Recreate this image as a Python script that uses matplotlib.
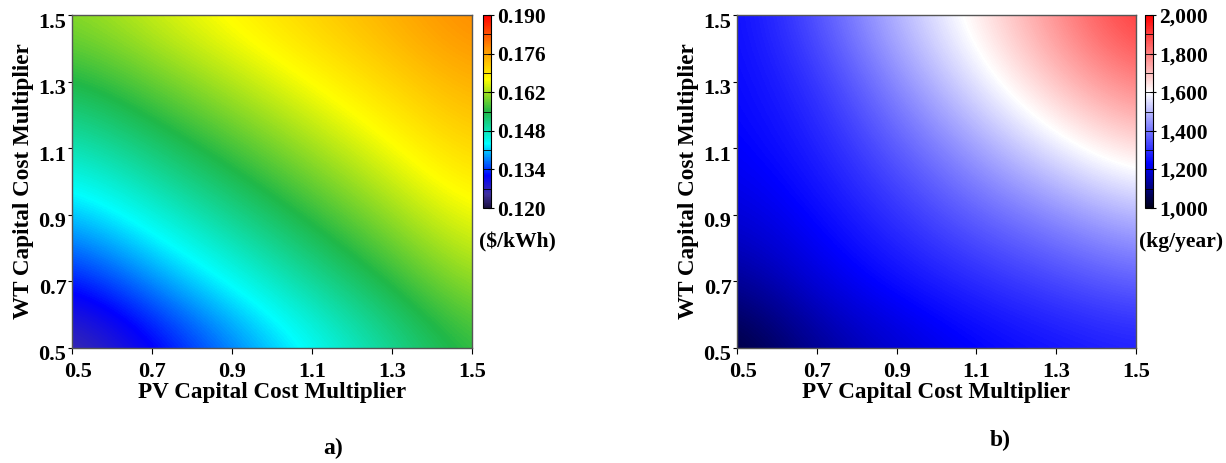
import numpy as np
import matplotlib
matplotlib.use("Agg")
import matplotlib.pyplot as plt
import matplotlib.transforms as mtransforms
from matplotlib.colors import LinearSegmentedColormap
from matplotlib.ticker import FuncFormatter

# ================= DATA ================= #
PV_MULT = [0.5, 0.7, 0.9, 1.1, 1.3, 1.5]
WT_MULT = [0.5, 0.7, 0.9, 1.1, 1.3, 1.5]

# rows = WT multiplier (0.5 -> 1.5), cols = PV multiplier (0.5 -> 1.5)
COE = [
    [0.1240, 0.1304, 0.1368, 0.1432, 0.1496, 0.1560],
    [0.1322, 0.1380, 0.1438, 0.1497, 0.1555, 0.1614],
    [0.1400, 0.1453, 0.1506, 0.1559, 0.1612, 0.1664],
    [0.1475, 0.1522, 0.1569, 0.1616, 0.1663, 0.1710],
    [0.1545, 0.1586, 0.1627, 0.1668, 0.1709, 0.1750],
    [0.1605, 0.1642, 0.1678, 0.1714, 0.1750, 0.1790],
]

CO2 = [
    [1020, 1120, 1180, 1225, 1250, 1270],
    [1120, 1200, 1250, 1290, 1330, 1370],
    [1190, 1240, 1300, 1370, 1430, 1500],
    [1225, 1270, 1360, 1460, 1570, 1660],
    [1235, 1300, 1430, 1565, 1700, 1810],
    [1240, 1350, 1500, 1630, 1780, 1930],
]

COE_TICKS = [0.120, 0.134, 0.148, 0.162, 0.176, 0.190]
CO2_TICKS = [1000, 1200, 1400, 1600, 1800, 2000]
AXIS_TICKS = [0.5, 0.7, 0.9, 1.1, 1.3, 1.5]

# ================= STYLE ================= #
plt.rcParams["font.family"] = ["Liberation Serif", "DejaVu Serif"]
plt.rcParams["font.weight"] = "bold"

cmap_a = LinearSegmentedColormap.from_list("coe", [
    (0.000, "#1a1040"),
    (0.070, "#4030a0"),
    (0.167, "#0000ff"),
    (0.333, "#00ffff"),
    (0.500, "#20b848"),
    (0.667, "#ffff00"),
    (0.833, "#ff8c00"),
    (1.000, "#ff0000"),
])
cmap_b = LinearSegmentedColormap.from_list("co2", [
    (0.00, "#000018"),
    (0.23, "#0000ff"),
    (0.60, "#ffffff"),
    (1.00, "#ff0000"),
])

W, H = 1226, 463
fig = plt.figure(figsize=(W / 100, H / 100), dpi=100)

def box(x0, x1, y0, y1):
    return [x0 / W, 1 - y1 / H, (x1 - x0) / W, (y1 - y0) / H]

def shift(label, dx, dy):
    label.set_transform(label.get_transform() +
                        mtransforms.ScaledTranslation(dx / 100, dy / 100,
                                                      fig.dpi_scale_trans))

panels = [
    (COE, cmap_a, 0.120, 0.190, COE_TICKS, "(\\$/kWh)", 517,
     box(72, 472, 15, 348), box(483, 491, 15, 208), "a)", (333, 448),
     lambda v, p: f"{v:.3f}"),
    (CO2, cmap_b, 1000, 2000, CO2_TICKS, "(kg/year)", 1181,
     box(737, 1136, 15, 348), box(1145, 1153, 15, 208), "b)", (1000, 440),
     lambda v, p: f"{int(round(v)):,}"),
]

half = (PV_MULT[1] - PV_MULT[0]) / 2

for Z, cmap, vmin, vmax, cticks, unit, unit_x, ax_box, cb_box, tag, tag_xy, fmt in panels:
    ax = fig.add_axes(ax_box)
    im = ax.imshow(np.array(Z), cmap=cmap, vmin=vmin, vmax=vmax, origin="lower",
                   extent=[PV_MULT[0] - half, PV_MULT[-1] + half,
                           WT_MULT[0] - half, WT_MULT[-1] + half],
                   interpolation="bicubic", interpolation_stage="data",
                   aspect="auto")
    ax.set_xlim(0.5, 1.5)
    ax.set_ylim(0.5, 1.5)
    ax.set_xticks(AXIS_TICKS)
    ax.set_yticks(AXIS_TICKS)
    ax.set_xticklabels([f"{t:.1f}" for t in AXIS_TICKS])
    ax.set_yticklabels([f"{t:.1f}" for t in AXIS_TICKS])
    ax.tick_params(axis="x", labelsize=16, length=4, width=0.8, pad=6)
    ax.tick_params(axis="y", labelsize=16, length=3, width=0.8, pad=1)
    shift(ax.get_xticklabels()[0], 6, 0)
    for lab in ax.get_yticklabels():
        shift(lab, 0, -5)
    ax.set_xlabel("PV Capital Cost Multiplier", fontsize=16.7, fontweight="bold",
                  labelpad=0)
    ax.set_ylabel("WT Capital Cost Multiplier", fontsize=16.7, fontweight="bold",
                  labelpad=3)
    for s in ax.spines.values():
        s.set_color("#555555")
        s.set_linewidth(1.0)

    cax = fig.add_axes(cb_box)
    cb = fig.colorbar(im, cax=cax, ticks=cticks, format=FuncFormatter(fmt))
    cb.outline.set_linewidth(0.8)
    cb.ax.tick_params(labelsize=15.5, length=5, width=0.8, pad=2, direction="inout")
    step = (cticks[1] - cticks[0]) / 2
    for t in np.arange(vmin, vmax + step / 2, step):
        cb.ax.axhline(t, color="black", linewidth=0.6)

    fig.text(unit_x / W, 1 - 242 / H, unit, ha="center", va="center",
             fontsize=15.5, fontweight="bold")
    fig.text(tag_xy[0] / W, 1 - tag_xy[1] / H, tag, ha="center", va="center",
             fontsize=17, fontweight="bold")

fig.savefig("out.png", dpi=100)
